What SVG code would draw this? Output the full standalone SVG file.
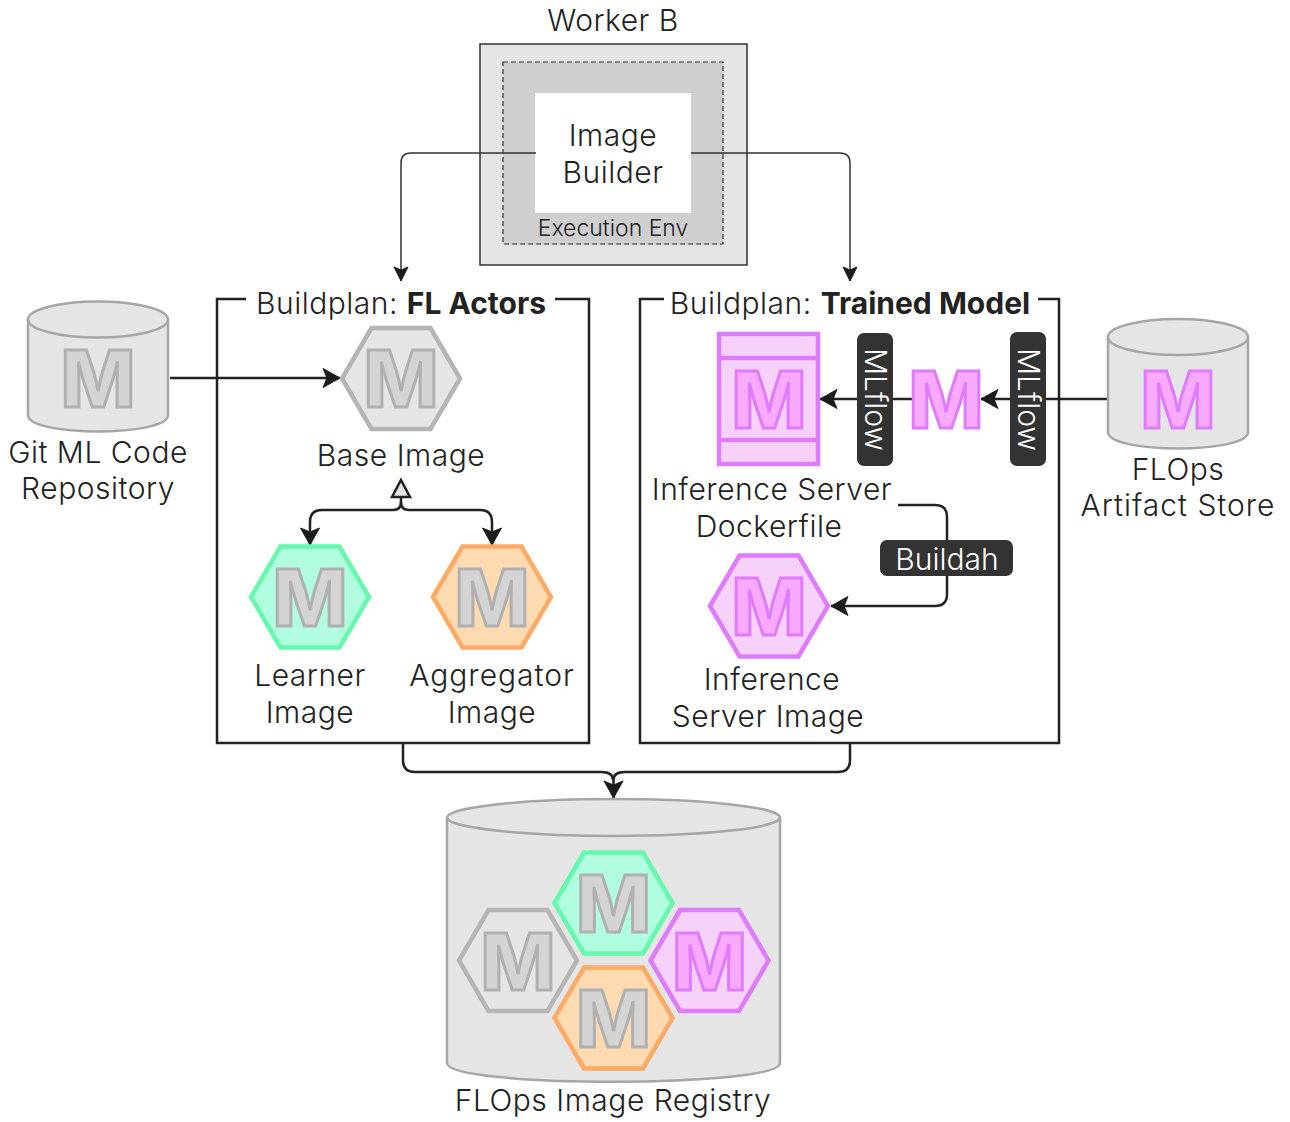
<svg xmlns="http://www.w3.org/2000/svg" width="1290" height="1122" viewBox="0 0 1290 1122">
<style>
text{font-family:"Inter","Liberation Sans",sans-serif;font-size:30px;letter-spacing:.5px;font-weight:300;fill:#222;text-anchor:middle}
text.pill{fill:#fff;letter-spacing:0}
text.wide{letter-spacing:1px}
text.small{font-size:23px;letter-spacing:0}
text.m{font-size:79px;letter-spacing:0;font-weight:800;stroke-width:3px;stroke-linejoin:miter}
text.mg{fill:#d4d4d4;stroke:#b0b0b0}
text.mp{fill:#f7aaff;stroke:#e07bff}
.bold{font-weight:700;letter-spacing:0}
.hex{stroke-width:4.5px;stroke-linejoin:miter}
.gray{fill:#e5e5e5;stroke:#b5b5b5}
.green{fill:#b0fde0;stroke:#66f8ad}
.orange{fill:#fedab0;stroke:#fbab66}
.purple{fill:#f6d2fb;stroke:#de7bff}
.cyl{fill:#e5e5e5;stroke:#a6a6a6;stroke-width:2.5px}
.frame{fill:none;stroke:#222;stroke-width:2.5px}
.thin{fill:none;stroke:#333;stroke-width:1.5px}
.conn{fill:none;stroke:#222;stroke-width:2.5px}
.pillbg{fill:#333}
</style>
<defs>
<marker id="arr" markerUnits="userSpaceOnUse" markerWidth="20" markerHeight="22" refX="18" refY="11" orient="auto"><path d="M1 1.500L18 11L1 20.500L5 11Z" fill="#1c1c1c" stroke="#1c1c1c" stroke-linejoin="round"/></marker>
<marker id="arrs" markerUnits="userSpaceOnUse" markerWidth="16" markerHeight="18" refX="15" refY="9" orient="auto"><path d="M1 2L15 9L1 16L4 9Z" fill="#1c1c1c" stroke="#1c1c1c" stroke-linejoin="round"/></marker>
<polygon id="hx" points="-59,0 -29.500,-50.500 29.500,-50.500 59,0 29.500,50.500 -29.500,50.500"/>
</defs>
<g id="worker-b">
<text x="613" y="31">Worker B</text>
<rect x="480" y="44" width="267" height="221" fill="#e5e5e5" stroke="#333" stroke-width="1.500"/>
<rect x="503" y="62" width="220" height="182" fill="#cfcfcf" stroke="#333" stroke-width="1.200" stroke-dasharray="5 3"/>
<rect x="535" y="93" width="156" height="120" fill="#fff"/>
<text x="613" y="146">Image</text>
<text x="613" y="183">Builder</text>
<text class="small" x="613" y="236">Execution Env</text>
</g>
<g id="connectors">
<path class="thin" marker-end="url(#arrs)" d="M536 153H411Q401 153 401 163V281"/>
<path class="thin" marker-end="url(#arrs)" d="M691 153H840Q850 153 850 163V281"/>
<path class="conn" marker-end="url(#arr)" d="M170 378H340"/>
<path class="conn" d="M401 498V502Q401 510 393 510"/>
<path class="conn" marker-end="url(#arr)" d="M393 510H322Q310 510 310 522V545"/>
<path class="conn" d="M401 502Q401 510 409 510"/>
<path class="conn" marker-end="url(#arr)" d="M409 510H480Q492 510 492 522V545"/>
<path class="conn" marker-end="url(#arr)" d="M1108 399H981"/>
<path class="conn" marker-end="url(#arr)" d="M912 399H820"/>
<path class="conn" marker-end="url(#arr)" d="M898 505H935Q947 505 947 517V594Q947 606 935 606H831"/>
<path class="conn" d="M403 744V760Q403 772 415 772H601Q613 772 613 780"/>
<path class="conn" marker-end="url(#arr)" d="M850 744V760Q850 772 838 772H625Q613.500 772 613.500 780V798"/>
<polygon points="401,480 410,497 392,497" fill="#e5e5e5" stroke="#222" stroke-width="2.500"/>
</g>
<g id="git-repo">
<path class="cyl" d="M28 319V415C28 437 168 437 168 415V319"/>
<ellipse class="cyl" cx="98" cy="319.500" rx="70" ry="18"/>
<text class="m mg" x="98" y="407">M</text>
<text x="98" y="463">Git ML Code</text>
<text x="98" y="499">Repository</text>
</g>
<g id="buildplan-fl">
<path class="frame" d="M246 299H217V743H589V299H555"/>
<text x="401" y="314">Buildplan: <tspan class="bold">FL Actors</tspan></text>
</g>
<g id="base-image">
<use href="#hx" class="hex gray" x="401" y="378.500"/>
<text class="m mg" x="401" y="407">M</text>
<text x="401" y="466">Base Image</text>
</g>
<g id="learner-image">
<use href="#hx" class="hex green" x="310" y="597"/>
<text class="m mg" x="310" y="626">M</text>
<text x="310" y="686">Learner</text>
<text x="310" y="723">Image</text>
</g>
<g id="aggregator-image">
<use href="#hx" class="hex orange" x="492" y="597"/>
<text class="m mg" x="492" y="626">M</text>
<text class="wide" x="492" y="686">Aggregator</text>
<text x="492" y="723">Image</text>
</g>
<g id="buildplan-model">
<path class="frame" d="M664 299H640V743H1059V299H1038"/>
<text x="850" y="314">Buildplan: <tspan class="bold">Trained Model</tspan></text>
</g>
<g id="dockerfile">
<rect class="hex purple" x="719" y="334" width="99" height="130"/>
<path class="hex purple" d="M719 358H818M719 440H818"/>
<text class="m mp" x="769" y="428">M</text>
<text x="772" y="500">Inference Server</text>
<text x="769" y="537">Dockerfile</text>
</g>
<g id="mlflow-1">
<rect class="pillbg" x="857" y="333" width="36" height="133" rx="7"/>
<text class="pill" transform="translate(865 399.500) rotate(90)">MLflow</text>
</g>
<g id="model"><text class="m mp" x="946" y="428">M</text></g>
<g id="mlflow-2">
<rect class="pillbg" x="1010" y="332" width="36" height="134" rx="7"/>
<text class="pill" transform="translate(1018 399.500) rotate(90)">MLflow</text>
</g>
<g id="artifact-store">
<path class="cyl" d="M1108 337V432C1108 454 1248 454 1248 432V337"/>
<ellipse class="cyl" cx="1178" cy="337" rx="70" ry="18"/>
<text class="m mp" x="1178" y="428">M</text>
<text x="1178" y="480">FLOps</text>
<text class="wide" x="1178" y="516">Artifact Store</text>
</g>
<g id="buildah">
<rect class="pillbg" x="880" y="540" width="133" height="36" rx="7"/>
<text class="pill" x="947" y="570">Buildah</text>
</g>
<g id="inference-image">
<use href="#hx" class="hex purple" x="769" y="606"/>
<text class="m mp" x="769" y="635">M</text>
<text x="772" y="690">Inference</text>
<text x="768" y="727">Server Image</text>
</g>
<g id="registry">
<path class="cyl" d="M447 817V1063C447 1088 780 1088 780 1063V817"/>
<ellipse class="cyl" cx="613.500" cy="817.500" rx="166.500" ry="18.500"/>
<use href="#hx" class="hex gray" x="518" y="960.500"/>
<text class="m mg" x="518" y="989.500">M</text>
<use href="#hx" class="hex green" x="613.500" y="903"/>
<text class="m mg" x="613.500" y="932">M</text>
<use href="#hx" class="hex orange" x="613.500" y="1018"/>
<text class="m mg" x="613.500" y="1047">M</text>
<use href="#hx" class="hex purple" x="709.500" y="960.500"/>
<text class="m mp" x="709.500" y="989.500">M</text>
<text x="613" y="1111">FLOps Image Registry</text>
</g>
</svg>
